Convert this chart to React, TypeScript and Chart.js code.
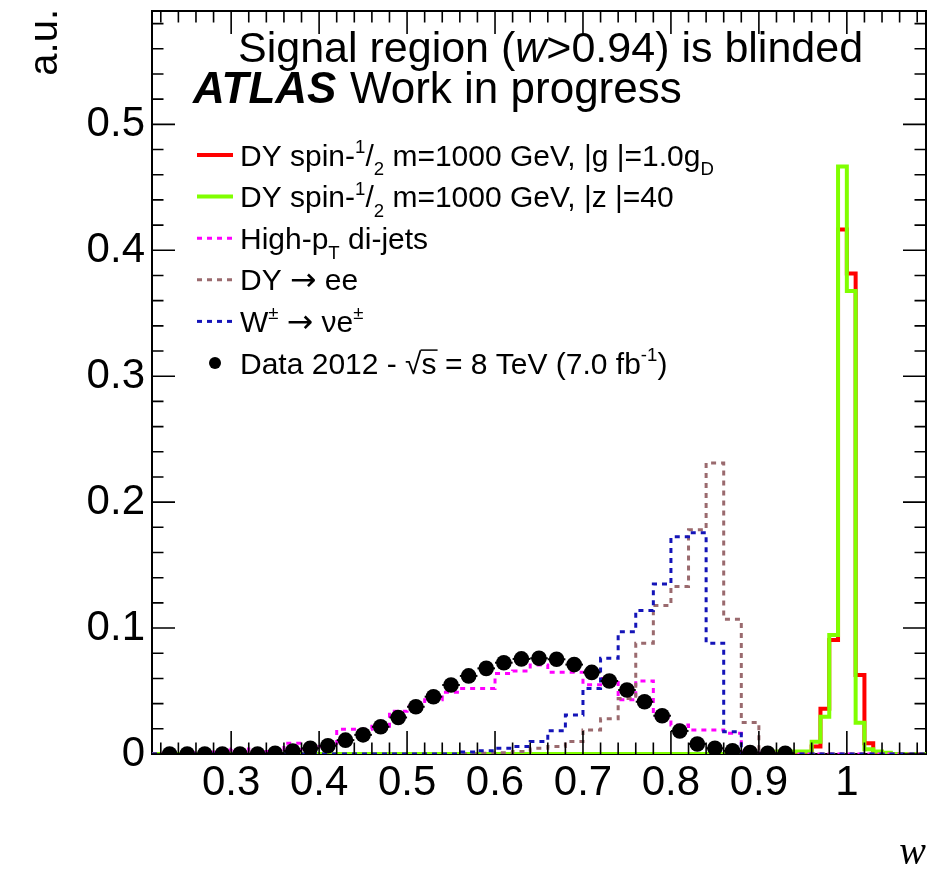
import React, { useEffect, useRef } from "react";
import { Chart, registerables } from "chart.js";

Chart.register(...registerables);

const FONT = "'Liberation Sans', Arial, Helvetica, sans-serif";
const SERIF = "'Liberation Serif', 'Times New Roman', serif";
const ARROWFONT = "'DejaVu Sans', sans-serif";

// ---- axes ----
const xMin = 0.21;
const xMax = 1.09;
const yMin = 0;
const yMax = 0.59;
const xTickValues = [0.3, 0.4, 0.5, 0.6, 0.7, 0.8, 0.9, 1.0];
const xTickLabels = ["0.3", "0.4", "0.5", "0.6", "0.7", "0.8", "0.9", "1"];
const yTickValues = [0, 0.1, 0.2, 0.3, 0.4, 0.5];
const yTickLabels = ["0", "0.1", "0.2", "0.3", "0.4", "0.5"];

// ---- background histograms: bins of 0.02 starting at 0.22 ----
const bkgBinLow = 0.22;
const bkgBinWidth = 0.02;
const diJets = [
  0.0005, 0.001, 0.001, 0.003, 0.004, 0.002, 0.002, 0.0085, 0.004, 0.006,
  0.0196, 0.0196, 0.022, 0.034, 0.038, 0.043, 0.049, 0.052, 0.052, 0.064,
  0.066, 0.0706, 0.065, 0.065, 0.055, 0.06, 0.043, 0.058, 0.0296, 0.023,
  0.019, 0.019, 0.0164, 0.001, 0.0005, 0,
];
const dyToEE = [
  0, 0, 0, 0, 0, 0, 0, 0, 0, 0, 0, 0, 0, 0, 0, 0, 0, 0,
  0.0005, 0.001, 0.002, 0.0045, 0.006, 0.01, 0.019, 0.028, 0.044, 0.088,
  0.118, 0.133, 0.178, 0.231, 0.107, 0.025, 0.001, 0,
];
const wToENu = [
  0, 0, 0, 0, 0, 0, 0, 0, 0, 0, 0, 0, 0, 0, 0, 0, 0,
  0.0015, 0.0026, 0.0045, 0.006, 0.01, 0.0185, 0.031, 0.052, 0.076, 0.097,
  0.114, 0.135, 0.1725, 0.1757, 0.088, 0.0177, 0, 0, 0,
];

// ---- signal histograms: bins of 0.01 starting at 0.92 ----
const sigBinLow = 0.92;
const sigBinWidth = 0.01;
const spinHalfG = [0, 0.001, 0.001, 0.001, 0.006, 0.036, 0.0905, 0.4164, 0.3815, 0.0627, 0.0085, 0.001, 0];
const spinHalfZ = [0.002, 0.002, 0.002, 0.002, 0.0098, 0.0296, 0.0944, 0.4665, 0.3677, 0.0249, 0.0037, 0.002, 0.001];

// ---- data points ----
const dataW = [
  0.23, 0.25, 0.27, 0.29, 0.31, 0.33, 0.35, 0.37, 0.39, 0.41, 0.43, 0.45,
  0.47, 0.49, 0.51, 0.53, 0.55, 0.57, 0.59, 0.61, 0.63, 0.65, 0.67, 0.69,
  0.71, 0.73, 0.75, 0.77, 0.79, 0.81, 0.83, 0.85, 0.87, 0.89, 0.91, 0.93,
];
const dataY = [
  0, 0, 0, 0, 0, 0, 0.0005, 0.0024, 0.0045, 0.0066, 0.011, 0.0152,
  0.0216, 0.029, 0.0375, 0.0455, 0.0548, 0.062, 0.068, 0.0725, 0.0755, 0.076,
  0.0752, 0.071, 0.0648, 0.058, 0.0508, 0.0415, 0.0304, 0.0183, 0.008, 0.0045,
  0.0025, 0.0012, 0.0005, 0.0005,
];
const dataXErr = 0.01;

type Part = { t: string; sup?: boolean; sub?: boolean; italic?: boolean; bold?: boolean; over?: boolean; family?: string; scale?: number };

const legendEntries: { ds: number; parts: Part[] }[] = [
  { ds: 5, parts: [{ t: "DY spin-" }, { t: "1", sup: true }, { t: "/" }, { t: "2", sub: true }, { t: " m=1000 GeV, |g |=1.0g" }, { t: "D", sub: true }] },
  { ds: 4, parts: [{ t: "DY spin-" }, { t: "1", sup: true }, { t: "/" }, { t: "2", sub: true }, { t: " m=1000 GeV, |z |=40" }] },
  { ds: 3, parts: [{ t: "High-p" }, { t: "T", sub: true }, { t: " di-jets" }] },
  { ds: 2, parts: [{ t: "DY " }, { t: "\u2192", family: ARROWFONT, scale: 1.05 }, { t: " ee" }] },
  { ds: 1, parts: [{ t: "W" }, { t: "\u00b1", sup: true }, { t: " " }, { t: "\u2192", family: ARROWFONT, scale: 1.05 }, { t: " \u03bde" }, { t: "\u00b1", sup: true }] },
  { ds: 0, parts: [{ t: "Data 2012 - " }, { t: "\u221a" }, { t: "s", over: true }, { t: " = 8 TeV (7.0 fb" }, { t: "-1", sup: true }, { t: ")" }] },
];

const titleParts: Part[] = [{ t: "Signal region (" }, { t: "w", italic: true }, { t: ">0.94) is blinded" }];

function histPoints(low: number, width: number, values: number[]) {
  const pts: { x: number; y: number }[] = [{ x: xMin, y: 0 }, { x: low, y: 0 }];
  values.forEach((v, i) => {
    const a = low + i * width;
    pts.push({ x: a, y: v }, { x: a + width, y: v });
  });
  pts.push({ x: low + values.length * width, y: 0 }, { x: xMax, y: 0 });
  return pts;
}

function drawRich(ctx: CanvasRenderingContext2D, x: number, y: number, parts: Part[], size: number) {
  let cx = x;
  for (const p of parts) {
    const s = (p.sup || p.sub ? size * 0.62 : size) * (p.scale ?? 1);
    const dy = p.sup ? -size * 0.42 : p.sub ? size * 0.33 : 0;
    ctx.font = `${p.italic ? "italic " : ""}${p.bold ? "bold " : ""}${s}px ${p.family ?? FONT}`;
    ctx.fillText(p.t, cx, y + dy);
    const w = ctx.measureText(p.t).width;
    if (p.over) {
      ctx.beginPath();
      ctx.lineWidth = 1.5;
      ctx.moveTo(cx - 1, y - size * 0.78);
      ctx.lineTo(cx + w + 1, y - size * 0.78);
      ctx.stroke();
    }
    cx += w;
  }
  return cx;
}

const decorPlugin = {
  id: "atlasDecor",
  beforeDatasetsDraw(chart: any) {
    const { ctx, chartArea: a } = chart;
    ctx.save();
    ctx.strokeStyle = "#000";
    ctx.lineWidth = 2;
    ctx.strokeRect(a.left, a.top, a.right - a.left, a.bottom - a.top);
    ctx.restore();
  },
  beforeDatasetDraw(chart: any, args: any) {
    if (args.index !== 0) return;
    const { ctx, scales } = chart;
    ctx.save();
    ctx.strokeStyle = "#000";
    ctx.lineWidth = 2;
    dataW.forEach((w, i) => {
      const py = scales.y.getPixelForValue(dataY[i]);
      ctx.beginPath();
      ctx.moveTo(scales.x.getPixelForValue(w - dataXErr), py);
      ctx.lineTo(scales.x.getPixelForValue(w + dataXErr), py);
      ctx.stroke();
    });
    ctx.restore();
  },
  afterDatasetsDraw(chart: any) {
    const { ctx, chartArea: a, scales } = chart;
    const xs = scales.x;
    const ys = scales.y;
    ctx.save();
    ctx.strokeStyle = "#000";
    ctx.lineWidth = 1.6;
    const majorLen = 23;
    const minorLen = 11.5;
    for (let k = Math.ceil(xMin / 0.02 - 1e-6); k * 0.02 <= xMax + 1e-9; k++) {
      const px = xs.getPixelForValue(k * 0.02);
      const len = k % 5 === 0 ? majorLen : minorLen;
      ctx.beginPath();
      ctx.moveTo(px, a.bottom);
      ctx.lineTo(px, a.bottom - len);
      ctx.moveTo(px, a.top);
      ctx.lineTo(px, a.top + len);
      ctx.stroke();
    }
    for (let k = 0; k * 0.02 <= yMax + 1e-9; k++) {
      const py = ys.getPixelForValue(k * 0.02);
      const len = k % 5 === 0 ? majorLen : minorLen;
      ctx.beginPath();
      ctx.moveTo(a.left, py);
      ctx.lineTo(a.left + len, py);
      ctx.moveTo(a.right, py);
      ctx.lineTo(a.right - len, py);
      ctx.stroke();
    }
    ctx.restore();
  },
  afterDraw(chart: any) {
    const { ctx } = chart;
    ctx.save();
    ctx.fillStyle = "#000";
    ctx.strokeStyle = "#000";
    ctx.textBaseline = "alphabetic";
    ctx.textAlign = "left";
    // header texts
    drawRich(ctx, 238, 62, titleParts, 43);
    ctx.font = `italic bold 44px ${FONT}`;
    ctx.fillText("ATLAS", 193, 103);
    ctx.font = `44px ${FONT}`;
    ctx.fillText("Work in progress", 350, 103);
    // legend
    const rowTop = 155;
    const rowStep = 41.6;
    legendEntries.forEach((e, i) => {
      const cy = rowTop + i * rowStep;
      const ds = chart.data.datasets[e.ds];
      ctx.save();
      if (e.ds === 0) {
        ctx.beginPath();
        ctx.fillStyle = ds.pointBackgroundColor;
        ctx.arc(215, cy, 6, 0, Math.PI * 2);
        ctx.fill();
      } else {
        ctx.strokeStyle = ds.borderColor;
        ctx.lineWidth = ds.borderWidth;
        ctx.setLineDash(ds.borderDash || []);
        ctx.beginPath();
        ctx.moveTo(197, cy);
        ctx.lineTo(233, cy);
        ctx.stroke();
      }
      ctx.restore();
      ctx.fillStyle = "#000";
      drawRich(ctx, 240, cy + 10.5, e.parts, 30);
    });
    // axis titles
    ctx.save();
    ctx.translate(57, 9);
    ctx.rotate(-Math.PI / 2);
    ctx.textAlign = "right";
    ctx.font = `40px ${FONT}`;
    ctx.fillText("a.u.", 0, 0);
    ctx.restore();
    ctx.textAlign = "right";
    ctx.font = `italic 40px ${SERIF}`;
    ctx.fillText("w", 926, 864);
    ctx.restore();
  },
};

export default function App() {
  const canvasRef = useRef<HTMLCanvasElement | null>(null);

  useEffect(() => {
    if (!canvasRef.current) return;
    const lineDs = (label: string, pts: any[], color: string, width: number, dash: number[] | undefined, order: number) => ({
      label,
      data: pts,
      showLine: true,
      borderColor: color,
      backgroundColor: color,
      borderWidth: width,
      borderDash: dash,
      borderCapStyle: "butt",
      borderJoinStyle: "miter",
      pointRadius: 0,
      pointHoverRadius: 0,
      tension: 0,
      fill: false,
      order,
    });
    const chart = new Chart(canvasRef.current, {
      type: "scatter",
      data: {
        datasets: [
          {
            label: "Data 2012",
            data: dataW.map((w, i) => ({ x: w, y: dataY[i] })),
            showLine: false,
            pointRadius: 7.8,
            pointHoverRadius: 7.8,
            pointBackgroundColor: "#000",
            pointBorderColor: "#000",
            pointBorderWidth: 0,
            order: 0,
          } as any,
          lineDs("W\u00b1 \u2192 \u03bde\u00b1", histPoints(bkgBinLow, bkgBinWidth, wToENu), "#1414b8", 3, [5, 5], 1),
          lineDs("DY \u2192 ee", histPoints(bkgBinLow, bkgBinWidth, dyToEE), "#9a6a6e", 3, [5, 5], 2),
          lineDs("High-pT di-jets", histPoints(bkgBinLow, bkgBinWidth, diJets), "#ff00ff", 3, [5, 5], 3),
          lineDs("DY spin-1/2 |z|=40", histPoints(sigBinLow, sigBinWidth, spinHalfZ), "#80ff00", 4, undefined, 4),
          lineDs("DY spin-1/2 |g|=1.0gD", histPoints(sigBinLow, sigBinWidth, spinHalfG), "#ff0000", 4, undefined, 5),
        ],
      },
      options: {
        responsive: false,
        animation: false,
        devicePixelRatio: 1,
        layout: { padding: { left: 0, right: 9, top: 11, bottom: 0 } },
        plugins: { legend: { display: false }, tooltip: { enabled: false } },
        events: [],
        scales: {
          x: {
            type: "linear",
            min: xMin,
            max: xMax,
            grid: { display: false, drawTicks: false },
            border: { display: false },
            afterBuildTicks: (s: any) => {
              s.ticks = xTickValues.map((v) => ({ value: v }));
            },
            afterFit: (s: any) => {
              s.height = 115;
              s.paddingLeft = 0;
              s.paddingRight = 0;
              s.paddingTop = 0;
              s.paddingBottom = 0;
            },
            ticks: {
              autoSkip: false,
              maxRotation: 0,
              padding: 4,
              color: "#000",
              font: { family: FONT, size: 42 },
              callback: (_v: any, i: number) => xTickLabels[i],
            },
          },
          y: {
            type: "linear",
            min: yMin,
            max: yMax,
            grid: { display: false, drawTicks: false },
            border: { display: false },
            afterBuildTicks: (s: any) => {
              s.ticks = yTickValues.map((v) => ({ value: v }));
            },
            afterFit: (s: any) => {
              s.width = 152;
              s.paddingLeft = 0;
              s.paddingRight = 0;
              s.paddingTop = 0;
              s.paddingBottom = 0;
            },
            ticks: {
              autoSkip: false,
              padding: 7,
              color: "#000",
              font: { family: FONT, size: 42 },
              callback: (_v: any, i: number) => yTickLabels[i],
            },
          },
        },
      } as any,
      plugins: [decorPlugin as any],
    });
    return () => chart.destroy();
  }, []);

  return (
    <div style={{ position: "fixed", left: 0, top: 0, width: 935, height: 869, background: "#fff" }}>
      <canvas ref={canvasRef} width={935} height={869} style={{ display: "block" }} />
    </div>
  );
}
